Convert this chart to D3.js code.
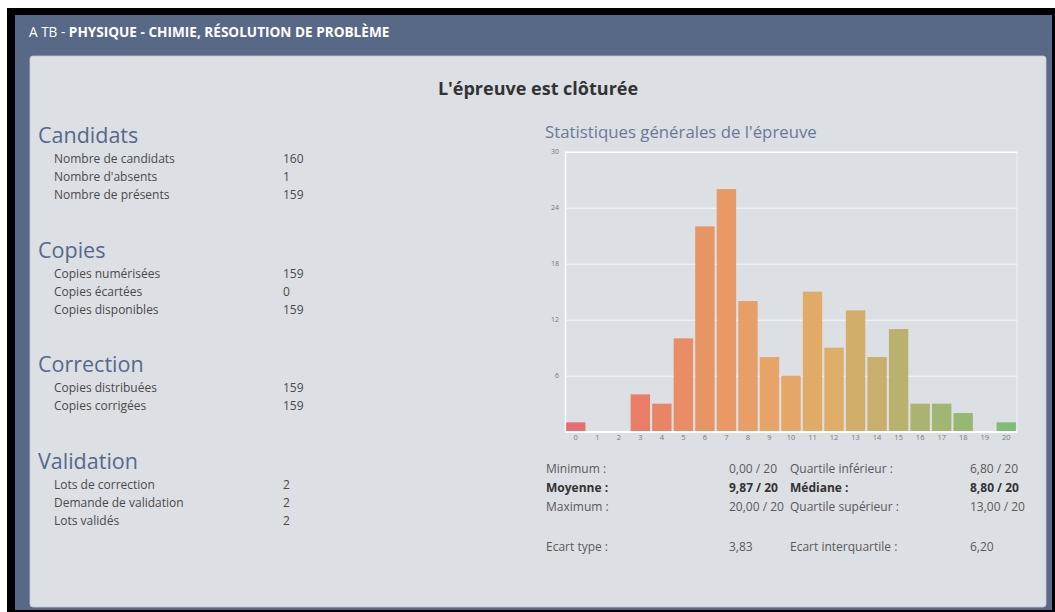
<!DOCTYPE html>
<html>
<head>
<meta charset="utf-8">
<script src="https://cdn.jsdelivr.net/npm/d3@7"></script>
<style>
  html, body { margin: 0; padding: 0; background: #ffffff; }
  svg { display: block; font-family: "Open Sans", "Noto Sans", sans-serif; }
</style>
</head>
<body>
<svg id="page" width="1055" height="612"></svg>
<script>
// ---------------- DATA ----------------
const headerPrefix = "A TB - ";
const headerTitle = "PHYSIQUE - CHIMIE, RÉSOLUTION DE PROBLÈME";
const statusTitle = "L'épreuve est clôturée";
const chartTitle = "Statistiques générales de l'épreuve";

const sectionNames = ["Candidats", "Copies", "Correction", "Validation"];
const candidatsLabels = ["Nombre de candidats", "Nombre d'absents", "Nombre de présents"];
const candidatsValues = ["160", "1", "159"];
const copiesLabels = ["Copies numérisées", "Copies écartées", "Copies disponibles"];
const copiesValues = ["159", "0", "159"];
const correctionLabels = ["Copies distribuées", "Copies corrigées"];
const correctionValues = ["159", "159"];
const validationLabels = ["Lots de correction", "Demande de validation", "Lots validés"];
const validationValues = ["2", "2", "2"];

const grades = ["0","1","2","3","4","5","6","7","8","9","10","11","12","13","14","15","16","17","18","19","20"];
const counts = [1, 0, 0, 4, 3, 10, 22, 26, 14, 8, 6, 15, 9, 13, 8, 11, 3, 3, 2, 0, 1];
const yTicks = [6, 12, 18, 24, 30];

const statLeftLabels = ["Minimum :", "Moyenne :", "Maximum :", "Ecart type :"];
const statLeftValues = ["0,00 / 20", "9,87 / 20", "20,00 / 20", "3,83"];
const statRightLabels = ["Quartile inférieur :", "Médiane :", "Quartile supérieur :", "Ecart interquartile :"];
const statRightValues = ["6,80 / 20", "8,80 / 20", "13,00 / 20", "6,20"];
const statBold = [false, true, false, false];

// ---------------- DRAW ----------------
(function () {
const svg = d3.select("#page");

// frame
svg.append("rect").attr("x", 7).attr("y", 8).attr("width", 1048).attr("height", 604).attr("fill", "#000");
svg.append("rect").attr("x", 15).attr("y", 15).attr("width", 1037).attr("height", 595).attr("fill", "#576987");

// header text
const ht = svg.append("text").attr("x", 29).attr("y", 37)
  .attr("font-size", 13.6).attr("fill", "#ffffff");
ht.append("tspan").text(headerPrefix);
ht.append("tspan").attr("font-weight", "bold").text(headerTitle);

// panel
svg.append("rect").attr("x", 30).attr("y", 56).attr("width", 1016).attr("height", 551)
  .attr("rx", 3).attr("fill", "#dcdfe4")
  .attr("stroke", "#c9ccd3").attr("stroke-width", 0.8);

svg.append("text").attr("x", 538).attr("y", 94.5).attr("text-anchor", "middle")
  .attr("font-size", 18).attr("font-weight", "bold").attr("fill", "#333333")
  .text(statusTitle);

// left sections
const sections = [
  {name: sectionNames[0], labels: candidatsLabels, values: candidatsValues, y: 143},
  {name: sectionNames[1], labels: copiesLabels, values: copiesValues, y: 258},
  {name: sectionNames[2], labels: correctionLabels, values: correctionValues, y: 372},
  {name: sectionNames[3], labels: validationLabels, values: validationValues, y: 469}
];
sections.forEach(s => {
  svg.append("text").attr("x", 38).attr("y", s.y)
    .attr("font-size", 21.5).attr("fill", "#56698a").text(s.name);
  s.labels.forEach((l, i) => {
    const yy = s.y + 20 + i * 17.8;
    svg.append("text").attr("x", 54).attr("y", yy)
      .attr("font-size", 12).attr("fill", "#4a4a4a").text(l);
    svg.append("text").attr("x", 283).attr("y", yy)
      .attr("font-size", 12).attr("fill", "#4a4a4a").text(s.values[i]);
  });
});

// chart title
svg.append("text").attr("x", 545).attr("y", 138)
  .attr("font-size", 16.8).attr("fill", "#6b7a93").text(chartTitle);

// chart
const cLeft = 565, cRight = 1017, cTop = 151.7, cBottom = 431.7;
const x = d3.scaleBand().domain(grades).range([cLeft, cRight]).paddingInner(0.1).paddingOuter(0.05);
const y = d3.scaleLinear().domain([0, 30]).range([cBottom, cTop]);
const color = d3.scaleLinear()
  .domain([0, 3, 6, 9, 12, 14, 16, 20])
  .range(["#e9676a", "#ea775f", "#e8905f", "#e8a060", "#ddaa60", "#c6ac66", "#a9b06a", "#79ba70"])
  .interpolate(d3.interpolateRgb);

// grid
const yAxis = d3.axisLeft(y).tickValues(yTicks).tickSize(-(cRight - cLeft)).tickPadding(6);
const gy = svg.append("g").attr("transform", `translate(${cLeft},0)`).call(yAxis);
gy.select(".domain").attr("stroke", "#ffffff").attr("stroke-width", 1.5);
gy.selectAll(".tick line").attr("stroke", "#ffffff").attr("stroke-width", 1).attr("opacity", 0.75);
gy.selectAll(".tick text").attr("font-size", 7).attr("fill", "#777").attr("font-family", "Open Sans, sans-serif");
gy.selectAll(".tick").filter(d => d === 30).select("line").attr("opacity", 0.45);
// right edge line
svg.append("line").attr("x1", cRight).attr("x2", cRight).attr("y1", cTop).attr("y2", cBottom)
  .attr("stroke", "#ffffff").attr("stroke-opacity", 0.5);

// bars
svg.append("g").selectAll("rect").data(counts).join("rect")
  .attr("x", (d, i) => x(grades[i]))
  .attr("y", d => y(d))
  .attr("width", x.bandwidth())
  .attr("height", d => cBottom - y(d))
  .attr("fill", (d, i) => color(+grades[i]))
  .attr("opacity", 0.95);

// baseline
svg.append("line").attr("x1", cLeft).attr("x2", cRight).attr("y1", cBottom).attr("y2", cBottom)
  .attr("stroke", "#ffffff").attr("stroke-width", 1.5);

// x axis labels
const xAxis = d3.axisBottom(x).tickSize(0).tickPadding(3);
const gx = svg.append("g").attr("transform", `translate(0,${cBottom})`).call(xAxis);
gx.select(".domain").remove();
gx.selectAll(".tick text").attr("font-size", 7.5).attr("fill", "#777").attr("font-family", "Open Sans, sans-serif");

// stats table
const statY = [472.5, 491.5, 511, 551];
statLeftLabels.forEach((l, i) => {
  const fw = statBold[i] ? "bold" : "normal";
  const fc = statBold[i] ? "#333" : "#5a5a5a";
  svg.append("text").attr("x", 546).attr("y", statY[i]).attr("font-size", 12)
    .attr("font-weight", fw).attr("fill", fc).text(l);
  svg.append("text").attr("x", 729).attr("y", statY[i]).attr("font-size", 12)
    .attr("font-weight", fw).attr("fill", fc).text(statLeftValues[i]);
  svg.append("text").attr("x", 790).attr("y", statY[i]).attr("font-size", 12)
    .attr("font-weight", fw).attr("fill", fc).text(statRightLabels[i]);
  svg.append("text").attr("x", 970).attr("y", statY[i]).attr("font-size", 12)
    .attr("font-weight", fw).attr("fill", fc).text(statRightValues[i]);
});
})();
</script>
</body>
</html>
